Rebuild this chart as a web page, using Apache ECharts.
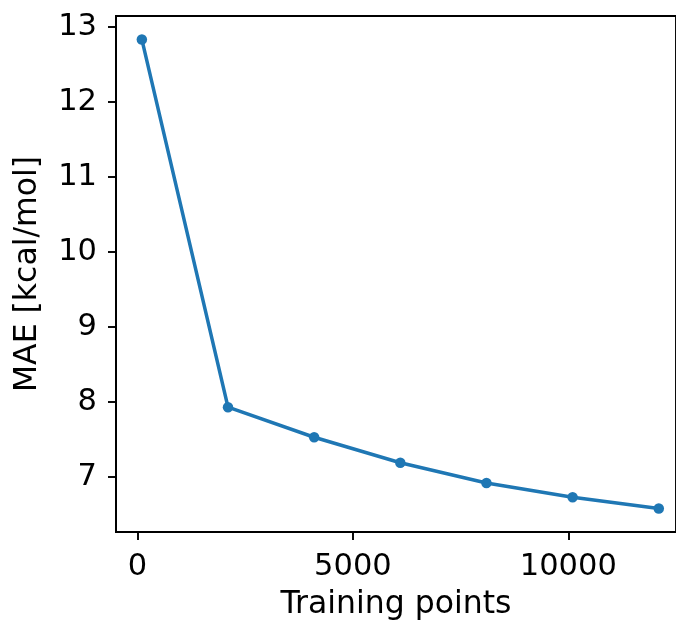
<!DOCTYPE html>
<html>
<head>
<meta charset="utf-8"/>
<title>MAE vs training points</title>
<script src="https://cdn.jsdelivr.net/npm/echarts@6/dist/echarts.min.js"></script>
<style>
  html, body { margin: 0; padding: 0; background: #fff; }
  #container { width: 676px; height: 626px; }
</style>
</head>
<body>
<div id="container"></div>
<script type="text/javascript">
    // values
    var trainingPoints = [100, 2100, 4100, 6100, 8100, 10100, 12100];
    var maeValues = [12.83, 7.93, 7.53, 7.19, 6.92, 6.73, 6.58];
    var xTicks = [0, 5000, 10000];
    var yTicks = [7, 8, 9, 10, 11, 12, 13];

    var seriesData = [];
    for (var i = 0; i < trainingPoints.length; i++) {
        seriesData.push([trainingPoints[i], maeValues[i]]);
    }

    var font = 'DejaVu Sans';
    var tickFont = 30.5;
    var nameFont = 31.5;
    var myChart = echarts.init(document.getElementById('container'));

    var option = {
        animation: false,
        backgroundColor: '#fff',
        grid: {
            left: 116,
            top: 16,
            right: 0,
            bottom: 91,
            show: true,
            borderColor: '#000',
            borderWidth: 1.9,
            backgroundColor: 'transparent'
        },
        xAxis: {
            type: 'value',
            min: -500,
            max: 12500,
            name: 'Training points',
            nameLocation: 'middle',
            nameGap: 57,
            nameTextStyle: { fontFamily: font, fontSize: nameFont, color: '#000' },
            axisLine: { show: true, onZero: false, lineStyle: { color: '#000', width: 1.9 } },
            axisTick: { show: true, length: 8, lineStyle: { color: '#000', width: 1.9 }, customValues: xTicks },
            axisLabel: {
                fontFamily: font, fontSize: tickFont, color: '#000', margin: 20, customValues: xTicks,
                formatter: function (v) { return String(v); }
            },
            splitLine: { show: false }
        },
        yAxis: {
            type: 'value',
            min: 6.2675,
            max: 13.1425,
            name: 'MAE [kcal/mol]',
            nameLocation: 'middle',
            nameGap: 72,
            nameTextStyle: { fontFamily: font, fontSize: nameFont, color: '#000' },
            axisLine: { show: true, onZero: false, lineStyle: { color: '#000', width: 1.9 } },
            axisTick: { show: true, length: 8, lineStyle: { color: '#000', width: 1.9 }, customValues: yTicks },
            axisLabel: {
                fontFamily: font, fontSize: tickFont, color: '#000', margin: 19, customValues: yTicks,
                formatter: function (v) { return String(v); }
            },
            splitLine: { show: false }
        },
        series: [{
            type: 'line',
            data: seriesData,
            symbol: 'circle',
            symbolSize: 10.5,
            showAllSymbol: true,
            lineStyle: { color: '#1f77b4', width: 3.5 },
            itemStyle: { color: '#1f77b4' }
        }]
    };

    myChart.setOption(option);
</script>
</body>
</html>
